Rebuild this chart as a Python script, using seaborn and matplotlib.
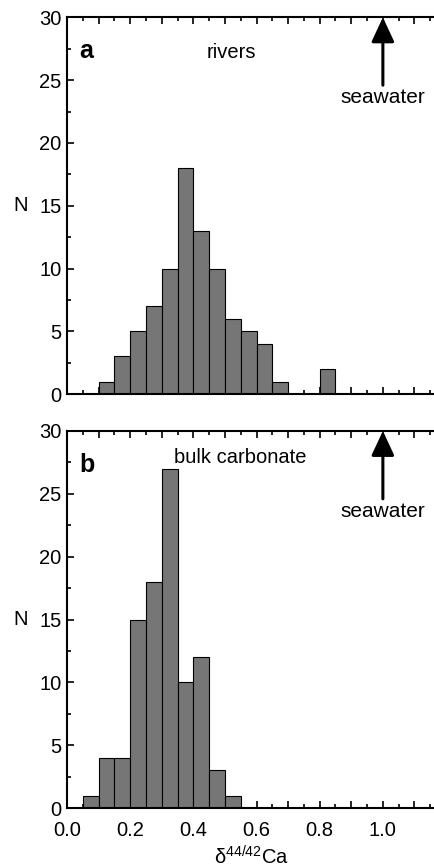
import numpy as np
import pandas as pd
import matplotlib
matplotlib.use("Agg")
import matplotlib.pyplot as plt
from matplotlib.ticker import MultipleLocator, FuncFormatter
import seaborn as sns

# Histogram bins of delta 44/42 Ca (bin width 0.05)
bin_edges = [round(0.05 * i, 2) for i in range(25)]
bin_centers = [e + 0.025 for e in bin_edges[:-1]]

rivers_counts = [0, 0, 1, 3, 5, 7, 10, 18, 13, 10, 6, 5, 4, 1, 0, 0, 2, 0, 0, 0, 0, 0, 0, 0]
carbonate_counts = [0, 1, 4, 4, 15, 18, 27, 10, 12, 3, 1, 0, 0, 0, 0, 0, 0, 0, 0, 0, 0, 0, 0, 0]

panel_letters = ["a", "b"]
panel_titles = ["rivers", "bulk carbonate"]
seawater_value = 1.0

sns.set_style("ticks")
plt.rcParams["font.family"] = ["Liberation Sans", "DejaVu Sans"]
plt.rcParams["mathtext.fontset"] = "custom"
plt.rcParams["mathtext.rm"] = "Liberation Sans"
plt.rcParams["text.color"] = "black"
plt.rcParams["axes.labelcolor"] = "black"
plt.rcParams["xtick.color"] = "black"
plt.rcParams["ytick.color"] = "black"
plt.rcParams["axes.edgecolor"] = "black"

FS = 14.5

fig = plt.figure(figsize=(4.35, 8.68), dpi=100)
ax_a = fig.add_axes([0.154, 0.546, 0.846, 0.434])
ax_b = fig.add_axes([0.154, 0.069, 0.846, 0.4345])

panels = [
    (ax_a, rivers_counts, panel_letters[0], panel_titles[0], (0.52, 27.2), "center"),
    (ax_b, carbonate_counts, panel_letters[1], panel_titles[1], (0.34, 27.9), "left"),
]

for ax, counts, letter, title, title_pos, title_ha in panels:
    df = pd.DataFrame({"value": bin_centers, "count": np.asarray(counts, dtype=float)})
    sns.histplot(data=df, x="value", weights="count", bins=bin_edges, ax=ax,
                 color="#767676", edgecolor="black", linewidth=0.8, alpha=1.0)
    ax.set_xlim(0, 1.165)
    ax.set_ylim(0, 30)
    ax.xaxis.set_major_locator(MultipleLocator(0.1))
    ax.xaxis.set_minor_locator(MultipleLocator(0.05))
    ax.yaxis.set_major_locator(MultipleLocator(5))
    ax.yaxis.set_minor_locator(MultipleLocator(2.5))
    ax.tick_params(which="both", direction="in", top=True, right=False, width=1.2)
    ax.tick_params(which="major", length=5, labelsize=FS)
    ax.tick_params(which="minor", length=3)
    ax.tick_params(axis="y", pad=4)
    ax.tick_params(axis="x", pad=9)
    for side in ["left", "bottom", "top"]:
        ax.spines[side].set_linewidth(1.5)
    ax.spines["right"].set_visible(False)
    ax.spines["top"].set_visible(True)
    ax.set_xlabel("")
    ax.set_ylabel("N", rotation=0, fontsize=FS, va="center")
    ax.yaxis.set_label_coords(-0.125, 0.5)

    ax.text(0.04, 27.3, letter, fontsize=18, fontweight="bold", ha="left", va="center")
    ax.text(title_pos[0], title_pos[1], title, fontsize=FS, ha=title_ha, va="center")

    ax.annotate("", xy=(seawater_value, 30), xytext=(seawater_value, 24.6),
                arrowprops=dict(arrowstyle="-|>,head_length=1.5,head_width=0.7",
                                color="black", lw=2.2, shrinkA=0, shrinkB=0))
    ax.text(seawater_value, 23.6, "seawater", fontsize=15, ha="center", va="center")

ax_a.tick_params(labelbottom=False)
ax_b.xaxis.set_major_formatter(
    FuncFormatter(lambda v, pos: f"{v:.1f}" if round(v * 10) % 2 == 0 else ""))
ax_b.set_xlabel(r"δ$^{\mathregular{44/42}}$Ca", fontsize=FS, labelpad=4)

fig.savefig("out.png", dpi=100)
